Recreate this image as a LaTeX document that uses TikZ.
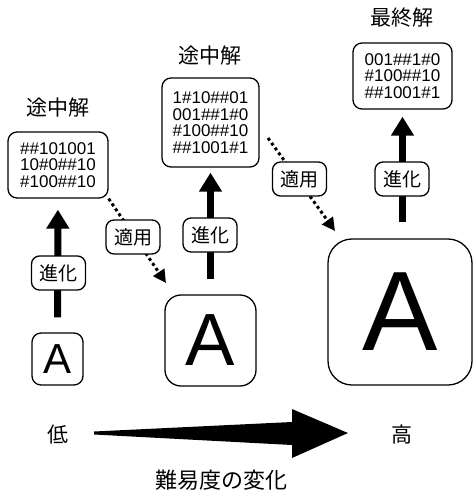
\documentclass[tikz,border=0pt]{standalone}
\usepackage{fontspec}
\setmainfont{Liberation Sans}
\newfontfamily\jp{Noto Sans CJK JP}
\usetikzlibrary{arrows.meta,calc}
\begin{document}
\begin{tikzpicture}[x=1pt,y=-1pt,
  codebox/.style={draw, line width=1.3pt, rounded corners=9pt, inner sep=0pt, align=center, font=\fontsize{17pt}{16.5pt}\selectfont},
  abox/.style={draw, line width=1.3pt, inner sep=0pt},
  tag/.style={draw, fill=white, line width=1.3pt, rounded corners=8pt, minimum width=54pt, minimum height=34pt, inner sep=0pt, font=\jp\fontsize{19pt}{19pt}\selectfont},
  title/.style={font=\jp\fontsize{21pt}{21pt}\selectfont},
  evo/.style={line width=7pt, -{Triangle[length=19pt,width=22pt]}},
  apply/.style={line width=3pt, dash pattern=on 3pt off 3pt, -{Triangle[length=13pt,width=13pt]}}
]
\useasboundingbox (0,0) rectangle (473,493);

% code boxes
\node[codebox, minimum width=100pt, minimum height=66pt] (s1) at (58,165) {\#\#101001\\10\#0\#\#10\\\#100\#\#10};
\node[codebox, minimum width=97pt, minimum height=89pt] (s2) at (210.5,122.5) {1\#10\#\#01\\001\#\#1\#0\\\#100\#\#10\\\#\#1001\#1};
\node[codebox, minimum width=99pt, minimum height=66pt] (s3) at (402.5,76) {001\#\#1\#0\\\#100\#\#10\\\#\#1001\#1};

% titles
\node[title] (t1) at (58,108) {途中解};
\node[title] (t2) at (210,56) {途中解};
\node[title] (t3) at (402,18) {最終解};

% A boxes
\node[abox, rounded corners=9pt, minimum width=51pt, minimum height=52pt, font=\fontsize{42pt}{42pt}\selectfont] (a1) at (57.5,359) {A};
\node[abox, rounded corners=16pt, minimum width=91pt, minimum height=91pt, font=\fontsize{74pt}{74pt}\selectfont] (a2) at (210.5,340.5) {A};
\node[abox, rounded corners=24pt, minimum width=144pt, minimum height=146pt, font=\fontsize{113pt}{113pt}\selectfont] (a3) at (400,312) {A};

% evolution arrows
\draw[evo, shorten <=15pt, shorten >=11pt] (a1) -- (s1);
\draw[evo, shorten <=15pt, shorten >=5pt] (a2) -- (s2);
\draw[evo, shorten <=16pt, shorten >=7pt] (a3.north -| s3.south) -- (s3.south);
\node[tag] (e1) at (58.5,273) {進化};
\node[tag] (e2) at (210,235) {進化};
\node[tag] (e3) at (402,179) {進化};

% apply arrows
\coordinate (p1) at (166,283);
\draw[apply] (s1.south east) -- (p1);
\node[tag] (u1) at (133,237) {適用};
\coordinate (q1) at (268,138);
\coordinate (p2) at (335,231);
\draw[apply] (q1) -- (p2);
\node[tag] (u2) at (299.5,179) {適用};

% difficulty
\node[title] (lo) at (58,435) {低};
\node[title] (hi) at (402,435) {高};
\node[font=\jp\fontsize{22pt}{22pt}\selectfont] (cap) at (221,480) {難易度の変化};
\coordinate (ds) at (94,433);
\coordinate (de) at (348,433);
\fill (ds) ++(0,-1.5) -- (292,422) -- (292,409) -- (de) -- (292,458) -- (292,445) -- ($(ds)+(0,1.5)$) -- cycle;
\end{tikzpicture}
\end{document}
